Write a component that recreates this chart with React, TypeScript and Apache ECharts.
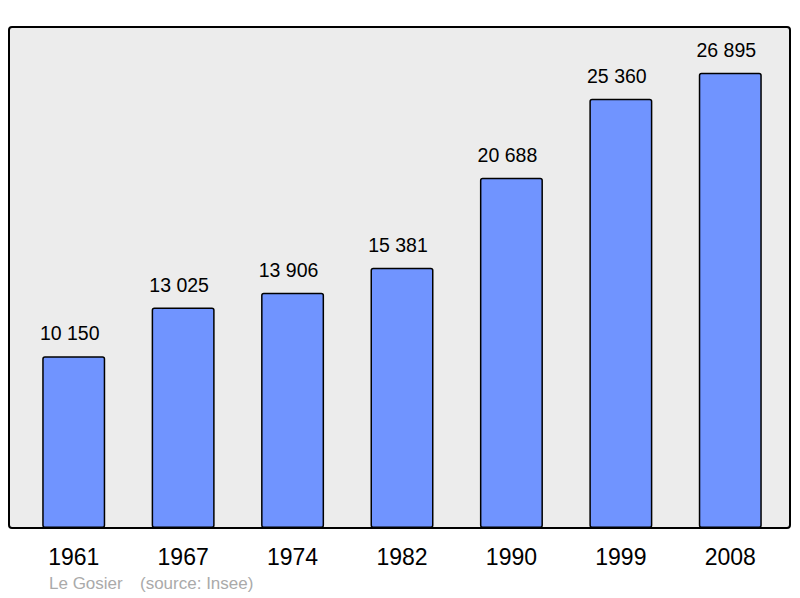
import React, { useEffect, useRef } from "react";
import * as echarts from "echarts";

const years = ["1961", "1967", "1974", "1982", "1990", "1999", "2008"];
const population = [10150, 13025, 13906, 15381, 20688, 25360, 26895];
const townName = "Le Gosier";
const sourceText = "(source: Insee)";

const fmt = (v: number) => {
  const s = String(v);
  return s.replace(/\B(?=(\d{3})+(?!\d))/g, " ");
};

export default function App() {
  const ref = useRef<HTMLDivElement>(null);
  useEffect(() => {
    const chart = echarts.init(ref.current!, null, { renderer: "svg" });
    chart.setOption({
      animation: false,
      textStyle: { fontFamily: "Liberation Sans, Arial, sans-serif" },
      graphic: [
        {
          type: "rect",
          z: -10,
          shape: { x: 9, y: 27, width: 781, height: 501, r: 3 },
          style: { fill: "#ececec", stroke: "#000", lineWidth: 2 },
          silent: true,
        },
        {
          type: "text",
          left: 49,
          top: 575,
          style: {
            text: townName,
            fill: "#aaaaaa",
            font: "17px Liberation Sans, Arial, sans-serif",
          },
        },
        {
          type: "text",
          left: 140,
          top: 575,
          style: {
            text: sourceText,
            fill: "#aaaaaa",
            font: "17px Liberation Sans, Arial, sans-serif",
          },
        },
      ],
      grid: { left: 19, right: 15, top: 27, bottom: 70, containLabel: false },
      xAxis: {
        type: "category",
        data: years,
        axisLine: { show: false },
        axisTick: { show: false },
        axisLabel: {
          color: "#000",
          fontSize: 23,
          margin: 17,
          fontFamily: "Liberation Sans, Arial, sans-serif",
        },
      },
      yAxis: {
        type: "value",
        min: 0,
        max: 29600,
        show: false,
        splitLine: { show: false },
      },
      series: [
        {
          type: "bar",
          data: population,
          barWidth: 63,
          itemStyle: {
            color: "#7094ff",
            borderColor: "#000",
            borderWidth: 1.5,
            borderRadius: 2,
          },
          label: {
            show: true,
            position: "top",
            distance: 13,
            offset: [-4, 0],
            color: "#000",
            fontSize: 19.5,
            fontFamily: "Liberation Sans, Arial, sans-serif",
            formatter: (p: any) => fmt(p.value),
          },
        },
      ],
    });
    return () => chart.dispose();
  }, []);
  return <div ref={ref} style={{ width: 800, height: 598, position: "absolute", left: 0, top: 0 }} />;
}
